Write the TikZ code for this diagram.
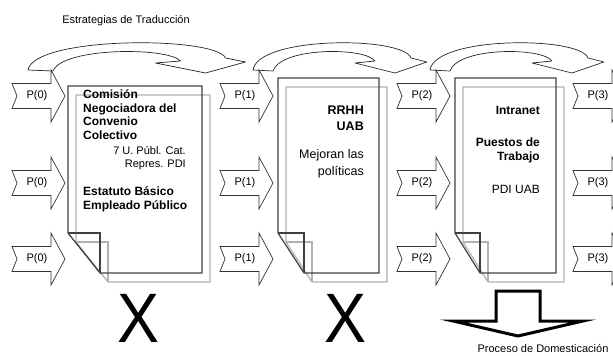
\documentclass[tikz,border=0pt]{standalone}
\usepackage{fontspec}
\setmainfont{Liberation Sans}

\begin{document}
\begin{tikzpicture}[x=1pt,y=-1pt,
    chev/.style={draw=black!80,fill=white,line width=0.7pt},
    docblack/.style={draw=black!75,line width=1.2pt},
    docgray/.style={draw=black!30,line width=1.2pt},
    band/.style={draw=black!85,fill=white,line width=0.7pt,line join=round},
    lbl/.style={inner sep=0pt,font=\fontsize{11}{13}\selectfont},
    bt/.style={inner sep=0pt,font=\fontsize{12}{13}\selectfont\bfseries},
    rt/.style={inner sep=0pt,font=\fontsize{12}{13}\selectfont},
    cruz/.style={inner sep=0pt,font=\fontsize{70}{70}\selectfont,xscale=0.9}]
    \useasboundingbox (0,0) rectangle (613,356);
    \clip (0,0) rectangle (613,356);

    \node[lbl] (titulo) at (126,21) {Estrategias de Traducción};

    % curved arrows on top
    \foreach \x/\s in {28/1.25,253/1,430/1}
        \draw[band,shift={(\x,0)},xscale=\s] (0,70) .. controls (5,36) and (150,36) .. (158,58)
            -- (174,62) -- (142,73) -- (102,63) -- (122,61)
            .. controls (112,47) and (28,47) .. (20,71) -- cycle;

    % chevrons P(n)
    \foreach \x/\n in {12/0,220/1,397/2,573/3}
        \foreach \y [count=\r] in {96,183,259}{
            \draw[chev] (\x,\y-12.5) -- (\x+39,\y-12.5) -- (\x+39,\y-26) -- (\x+53,\y)
                -- (\x+39,\y+26) -- (\x+39,\y+12.5) -- (\x,\y+12.5) -- (\x+5,\y) -- cycle;
            \node[lbl] (p\n\r) at (\x+25,\y) {P(\n)};
        }

    % documents: gray copy behind, black in front
    \foreach \l/\t/\r/\c in {68/86/202/32,278/78/379/26,455/78/556/25}{
        \draw[docgray] (\l+8+\c,282) -- (\r+8,282) -- (\r+8,\t+9) -- (\l+8,\t+9) -- (\l+8,242) -- cycle;
        \draw[docgray] (\l+8,242) -- (\l+8+\c,242) -- (\l+8+\c,282);
        \draw[docblack] (\l+\c,273) -- (\r,273) -- (\r,\t) -- (\l,\t) -- (\l,233) -- cycle;
        \draw[docblack] (\l,233) -- (\l+\c,233) -- (\l+\c,273);
    }

    % texts of the first document
    \foreach \t/\y [count=\i] in {Comisión/96,Negociadora del/110,Convenio/123,Colectivo/137,
        Estatuto Básico/193,Empleado Público/207}
        \node[bt,anchor=mid west] (uno\i) at (83,\y) {\t};
    \node[lbl,anchor=mid east] (cat) at (186,152) {7 U. Públ. Cat.};
    \node[lbl,anchor=mid east] (pdi) at (186,165) {Repres. PDI};

    % second document
    \node[bt,anchor=mid east,font=\fontsize{12.5}{13}\selectfont\bfseries] (rrhh) at (364,112) {RRHH};
    \node[bt,anchor=mid east,font=\fontsize{12.5}{13}\selectfont\bfseries] (uab) at (364,128) {UAB};
    \node[rt,anchor=mid east,font=\fontsize{12.5}{13}\selectfont] (mej) at (364,156) {Mejoran las};
    \node[rt,anchor=mid east,font=\fontsize{12.5}{13}\selectfont] (pol) at (364,173) {políticas};

    % third document
    \node[bt,anchor=mid east] (intra) at (540,112) {Intranet};
    \node[bt,anchor=mid east] (pue) at (540,144) {Puestos de};
    \node[bt,anchor=mid east] (trab) at (540,158) {Trabajo};
    \node[rt,anchor=mid east] (pdiuab) at (540,191) {PDI UAB};

    % crosses
    \node[cruz] (x1) at (139,318) {X};
    \node[cruz] (x2) at (346,318) {X};

    % block arrow down
    \draw[line width=3pt,fill=white] (496,291) -- (540,291) -- (540,321) -- (583,321)
        -- (518,336) -- (453,321) -- (496,321) -- cycle;
    \node[lbl] (dom) at (543,348) {Proceso de Domesticación};
\end{tikzpicture}
\end{document}
